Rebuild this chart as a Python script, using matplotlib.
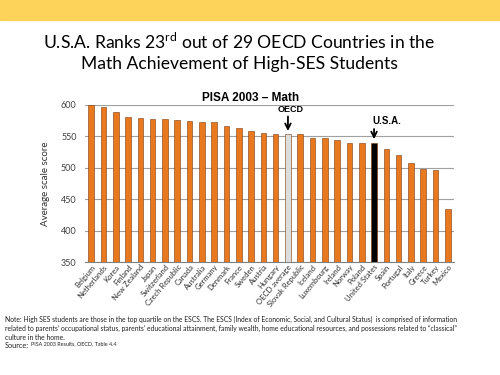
import matplotlib
matplotlib.use("Agg")
import matplotlib.pyplot as plt
from matplotlib.patches import Rectangle

plt.rcParams['font.family'] = ['Lato', 'DejaVu Sans']
plt.rcParams['mathtext.fontset'] = 'custom'
plt.rcParams['mathtext.rm'] = 'Lato'

countries = ['Belgium', 'Netherlands', 'Korea', 'Finland', 'New Zealand', 'Japan',
             'Switzerland', 'Czech Republic', 'Canada', 'Australia', 'Germany',
             'Denmark', 'France', 'Sweden', 'Austria', 'Hungary', 'OECD average',
             'Slovak Republic', 'Iceland', 'Luxembourg', 'Ireland', 'Norway',
             'Poland', 'United States', 'Spain', 'Portugal', 'Italy', 'Greece',
             'Turkey', 'Mexico']
scores = [600, 596, 588, 580, 579, 577, 577, 576, 574, 573, 572, 566, 563, 558,
          556, 554, 553, 554, 547, 547, 544, 540, 540, 540, 530, 520, 508, 498,
          497, 434]
yticks = [350, 400, 450, 500, 550, 600]

orange = '#E8791F'
colors = []
for c in countries:
    if c == 'OECD average':
        colors.append('#DCDCDC')
    elif c == 'United States':
        colors.append('black')
    else:
        colors.append(orange)

fig = plt.figure(figsize=(5, 3.75), dpi=100)
# yellow band across the top of the slide
fig.patches.append(Rectangle((0, 0.947), 1, 0.053, transform=fig.transFigure,
                             color='#FED359', zorder=0))

fig.text(0.478, 0.888, 'U.S.A. Ranks 23$^{\\mathrm{rd}}$ out of 29 OECD Countries in the',
         ha='center', va='center', fontsize=12.6, color='black')
fig.text(0.478, 0.830, 'Math Achievement of High-SES Students',
         ha='center', va='center', fontsize=12.6, color='black')

ax = fig.add_axes([0.17, 0.3013, 0.738, 0.419])
x = range(len(countries))
ax.bar(x, [s - 350 for s in scores], bottom=350, width=0.45, color=colors,
       edgecolor='#7A3A10', linewidth=0.4, zorder=3)
ax.set_ylim(350, 600)
ax.set_xlim(-0.5, len(countries) - 0.5)
ax.set_yticks(yticks)
ax.yaxis.grid(True, color='#A0A0A0', linewidth=0.8, zorder=0)
ax.set_yticklabels([str(t) for t in yticks], fontsize=6.5, color='#404040')
ax.tick_params(axis='y', length=0, pad=6)
ax.tick_params(axis='x', length=0, pad=1)
for s in ['left', 'right', 'top']:
    ax.spines[s].set_visible(False)
ax.spines['bottom'].set_color('#808080')
ax.set_xticks(list(x))
ax.set_xticklabels(countries, rotation=50, ha='right', rotation_mode='anchor',
                   fontsize=5.5, color='#303030')
ax.set_ylabel('Average scale score', fontsize=7, color='#303030', labelpad=8)
ax.set_title('PISA 2003 \u2013 Math', fontsize=8.5, fontweight='bold',
             family=['Liberation Sans'], pad=3, x=0.45)

i_oecd = countries.index('OECD average')
ax.annotate('', xy=(i_oecd, scores[i_oecd] + 1), xytext=(i_oecd, scores[i_oecd] + 33),
            arrowprops=dict(arrowstyle='->', color='black', lw=1.3), annotation_clip=False)
ax.text(i_oecd + 0.2, scores[i_oecd] + 40, 'OECD', ha='center', va='center',
        fontsize=6.5, fontweight='bold', family=['Liberation Sans'])
i_us = countries.index('United States')
ax.annotate('', xy=(i_us, scores[i_us] + 1), xytext=(i_us, scores[i_us] + 26),
            arrowprops=dict(arrowstyle='->', color='black', lw=1.3), annotation_clip=False)
ax.text(i_us - 0.1, scores[i_us] + 35, 'U.S.A.', ha='left', va='center',
        fontsize=7, fontweight='bold', family=['Liberation Sans'])

note_lines = [
    "Note: High SES students are those in the top quartile on the ESCS. The ESCS (Index of "
    "Economic, Social, and Cultural Status)  is comprised of information",
    "related to parents\u2019 occupational status, parents\u2019 educational attainment, "
    "family wealth, home educational resources, and possessions related to \u201cclassical\u201d",
    "culture in the home.",
]
note_y = [0.147, 0.123, 0.101]
for line, yy in zip(note_lines, note_y):
    fig.text(0.01, yy, line, ha='left', va='center', fontsize=4.9, color='#202020')
fig.text(0.01, 0.078, 'Source:', ha='left', va='center', fontsize=5.3, color='#202020')
fig.text(0.062, 0.084, 'PISA 2003 Results, OECD, Table 4.4', ha='left', va='center',
         fontsize=3.9, color='#202020')

fig.savefig('out.png', dpi=100)
